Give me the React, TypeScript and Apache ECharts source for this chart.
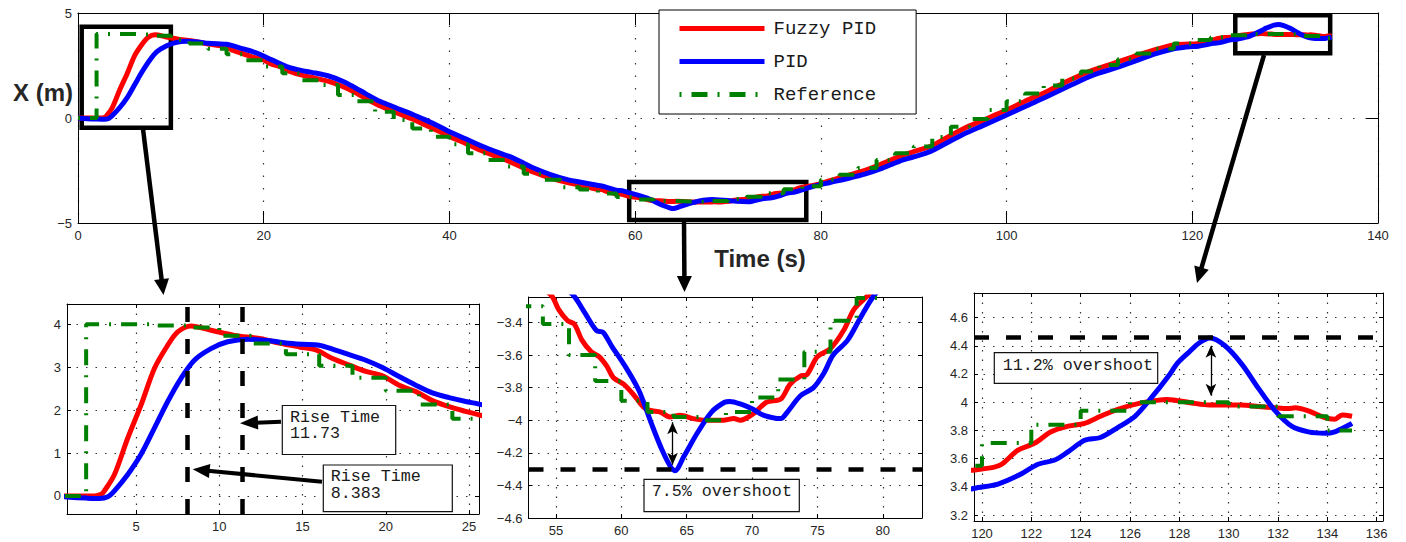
import React, { useEffect, useRef } from 'react';
import * as echarts from 'echarts';

// ---------------- data ----------------
const fuzzyT = [0, 2.5, 2.9, 3.1, 3.7, 4.5, 5.3, 6.1, 6.9, 7.5, 8.3, 9.5, 10.9, 12.5, 13.6, 14.8, 15.8, 16.8, 17.8, 18.8, 19.8, 20.8, 21.8, 22.8, 23.8, 24.8, 25.6, 27, 28.5, 29.6, 31, 32.2, 33.5, 34.7, 36, 37.4, 38.8, 40, 41.8, 43.6, 45, 46.5, 48, 49, 50.8, 52.6, 53.5, 54.7, 55.2, 55.9, 56.4, 57, 57.7, 58.3, 58.9, 59.4, 60.2, 60.9, 61.7, 62.2, 63, 63.7, 64.5, 65.5, 66.5, 67.8, 68.6, 69.1, 70.1, 71.1, 72.2, 72.9, 73.7, 74.2, 75, 76, 77, 77.8, 78.8, 79.5, 81, 83, 84.9, 86.4, 88.5, 90, 91.75, 93.5, 95.3, 97.5, 100, 102, 104.3, 107, 109.3, 111.5, 113.6, 116, 118, 119.7, 120.5, 120.8, 121.46, 122.14, 122.8, 123.5, 124.16, 124.8, 125.5, 126.46, 127.5, 128.5, 129.2, 130.5, 131.2, 131.9, 132.4, 132.7, 133.2, 133.9, 134.3, 134.6, 135];
const fuzzyV = [0, 0, 0.04, 0.12, 0.5, 1.35, 2.12, 2.97, 3.51, 3.82, 3.96, 3.86, 3.74, 3.66, 3.56, 3.47, 3.4, 3.2, 3.05, 2.9, 2.8, 2.58, 2.43, 2.22, 2.08, 1.97, 1.89, 1.74, 1.5, 1.27, 0.93, 0.64, 0.4, 0.18, -0.05, -0.33, -0.62, -0.88, -1.22, -1.58, -1.82, -2.08, -2.38, -2.57, -2.85, -3.06, -3.15, -3.24, -3.32, -3.39, -3.41, -3.51, -3.58, -3.61, -3.67, -3.74, -3.78, -3.84, -3.92, -3.94, -3.95, -3.98, -3.97, -3.99, -4.0, -4.0, -3.99, -4.0, -3.96, -3.89, -3.87, -3.78, -3.73, -3.72, -3.61, -3.56, -3.45, -3.32, -3.24, -3.18, -2.98, -2.72, -2.47, -2.22, -1.82, -1.6, -1.36, -0.95, -0.52, -0.1, 0.38, 0.8, 1.25, 1.85, 2.28, 2.6, 2.91, 3.25, 3.48, 3.52, 3.54, 3.56, 3.66, 3.71, 3.79, 3.83, 3.85, 3.9, 3.95, 3.995, 4.02, 3.995, 3.98, 3.98, 3.97, 3.96, 3.955, 3.96, 3.94, 3.89, 3.88, 3.91, 3.9];

const pidT = [0, 1, 2, 2.8, 3.3, 3.7, 4.5, 5.3, 6.1, 6.9, 7.7, 8.5, 9.5, 10.5, 11.7, 12.9, 14, 15, 16, 16.8, 17.8, 18.8, 19.8, 20.8, 21.8, 22.8, 23.8, 24.8, 25.6, 27, 28.5, 29.6, 31, 32.2, 33.5, 34.7, 36, 37.4, 38.8, 40, 41.8, 43.6, 45, 46.5, 48, 49, 50.8, 52.6, 54, 55, 56.4, 57.2, 58.1, 58.6, 59.3, 60.3, 61.3, 61.8, 62.3, 63.1, 63.8, 64.1, 64.8, 65.8, 66.9, 67.9, 68.3, 69.1, 70, 70.9, 72.2, 72.7, 73.7, 74.7, 75.5, 76.2, 77.3, 78.3, 79.2, 81, 83, 84.9, 86.4, 88.5, 90, 91.75, 93.5, 95.3, 97.5, 100, 102, 104.3, 107, 109.3, 111.5, 113.6, 116, 118, 119, 119.7, 120.65, 121.46, 122.27, 122.95, 123.5, 124.16, 124.8, 125.5, 126.2, 126.86, 127.54, 127.94, 128.36, 128.8, 129.24, 129.85, 130.53, 131.2, 131.88, 132.55, 133.23, 133.9, 134.3, 134.9, 135];
const pidV = [0, -0.03, -0.05, -0.06, -0.02, 0.12, 0.5, 0.97, 1.58, 2.2, 2.74, 3.16, 3.43, 3.59, 3.65, 3.62, 3.56, 3.53, 3.51, 3.42, 3.29, 3.16, 2.99, 2.78, 2.58, 2.4, 2.29, 2.2, 2.14, 2.0, 1.75, 1.5, 1.15, 0.86, 0.62, 0.4, 0.18, -0.09, -0.38, -0.65, -1.0, -1.36, -1.6, -1.84, -2.15, -2.37, -2.68, -2.92, -3.05, -3.13, -3.24, -3.34, -3.45, -3.46, -3.55, -3.67, -3.81, -3.91, -4.02, -4.18, -4.29, -4.31, -4.22, -4.08, -3.95, -3.89, -3.885, -3.9, -3.93, -3.97, -3.99, -3.95, -3.85, -3.8, -3.71, -3.6, -3.51, -3.37, -3.25, -3.07, -2.87, -2.65, -2.43, -2.05, -1.85, -1.6, -1.2, -0.78, -0.35, 0.14, 0.55, 1.01, 1.58, 2.04, 2.35, 2.67, 3.05, 3.3, 3.36, 3.39, 3.42, 3.48, 3.56, 3.59, 3.65, 3.73, 3.75, 3.82, 3.9, 4.03, 4.18, 4.28, 4.35, 4.42, 4.455, 4.4, 4.27, 4.1, 3.94, 3.83, 3.79, 3.78, 3.79, 3.84, 3.85];

const refT = [0, 2, 4, 6, 8, 10, 12, 14, 16, 18, 20, 22, 24, 26, 28, 30, 32, 34, 36, 38, 40, 42, 44, 46, 48, 50, 52, 54, 56, 58, 60, 62, 64, 66, 68, 70, 72, 74, 76, 78, 80, 82, 84, 86, 88, 90, 92, 94, 96, 98, 100, 102, 104, 106, 108, 110, 112, 114, 116, 118, 120, 122, 124, 126, 128, 130, 132, 134, 135];
const refV = [0, 4.0, 4.0, 3.97, 3.92, 3.73, 3.55, 3.3, 3.03, 2.75, 2.45, 2.13, 1.8, 1.57, 1.1, 0.8, 0.3, -0.1, -0.5, -0.89, -1.25, -1.68, -2.0, -2.31, -2.65, -2.94, -3.3, -3.41, -3.6, -3.76, -3.88, -3.95, -3.98, -4.0, -3.95, -3.86, -3.75, -3.58, -3.39, -3.25, -2.94, -2.7, -2.38, -2.0, -1.68, -1.36, -0.9, -0.42, -0.05, 0.38, 0.8, 1.17, 1.55, 1.88, 2.22, 2.52, 2.8, 3.07, 3.3, 3.55, 3.71, 3.84, 3.94, 4.0, 4.0, 3.97, 3.9, 3.8, 3.8];

const legendNames = ['Fuzzy PID', 'PID', 'Reference'];

const mainXTicks = [0, 20, 40, 60, 80, 100, 120, 140];
const mainYTicks = [-5, 0, 5];
const sub1XTicks = [5, 10, 15, 20, 25];
const sub1YTicks = [0, 1, 2, 3, 4];
const sub2XTicks = [55, 60, 65, 70, 75, 80];
const sub2YTicks = [-4.6, -4.4, -4.2, -4, -3.8, -3.6, -3.4];
const sub3XTicks = [120, 122, 124, 126, 128, 130, 132, 134, 136];
const sub3YTicks = [3.2, 3.4, 3.6, 3.8, 4, 4.2, 4.4, 4.6];

// zoom windows drawn on the main plot: [t0, v0, t1, v1]
const zoomBoxes = [
  [0.4, 4.35, 10, -0.47],
  [59.36, -3.05, 78.43, -4.86],
  [124.63, 4.89, 134.85, 3.08],
];
const riseTimeMarks = [8.1, 11.4]; // where the dashed lines are drawn
const overshootLow = -4.3;
const overshootHigh = 4.457;
const arrowLow = [63.92, -4.012, -4.273];
const arrowHigh = [129.28, 4.4, 4.046];

const riseText1 = 'Rise Time\n11.73';
const riseText2 = 'Rise Time\n8.383';
const overText1 = '7.5% overshoot';
const overText2 = '11.2% overshoot';

// ---------------- helpers ----------------
const zip = (ts: number[], vs: number[]) => ts.map((t, i) => [t, vs[i]]);
const fmt = (v: number) => String(Math.round(v * 100) / 100).replace('-', '\u2212');

type Panel = {
  grid: { left: number; top: number; width: number; height: number };
  x: [number, number];
  y: [number, number];
  xTicks: number[];
  yTicks: number[];
  tickLen: number;
  dots: number[];
};

const panels: Panel[] = [
  { grid: { left: 78, top: 13, width: 1300, height: 210 }, x: [0, 140], y: [-5, 5], xTicks: mainXTicks, yTicks: mainYTicks, tickLen: 12, dots: [1.5, 11] },
  { grid: { left: 67, top: 304, width: 412, height: 210 }, x: [0.85, 25.6], y: [-0.42, 4.47], xTicks: sub1XTicks, yTicks: sub1YTicks, tickLen: 4, dots: [1.5, 8] },
  { grid: { left: 528.5, top: 297, width: 393.5, height: 221 }, x: [52.9, 83.0], y: [-4.6, -3.244], xTicks: sub2XTicks, yTicks: sub2YTicks, tickLen: 4, dots: [1.5, 8] },
  { grid: { left: 974, top: 293, width: 409, height: 228 }, x: [119.676, 136.255], y: [3.158, 4.774], xTicks: sub3XTicks, yTicks: sub3YTicks, tickLen: 4, dots: [1.5, 8] },
];

function arrow(x1: number, y1: number, x2: number, y2: number, len: number, w: number, lw: number) {
  const dx = x2 - x1;
  const dy = y2 - y1;
  const L = Math.hypot(dx, dy);
  const ux = dx / L;
  const uy = dy / L;
  const bx = x2 - ux * len;
  const by = y2 - uy * len;
  const px = -uy;
  const py = ux;
  return [
    { type: 'line', z: 100, shape: { x1, y1, x2: bx + ux * 2, y2: by + uy * 2 }, style: { stroke: '#000', lineWidth: lw } },
    {
      type: 'polygon', z: 100,
      shape: { points: [[x2, y2], [bx + (px * w) / 2, by + (py * w) / 2], [bx - (px * w) / 2, by - (py * w) / 2]] },
      style: { fill: '#000' },
    },
  ];
}

function textBox(rx: number, ry: number, rw: number, rh: number, tx: number, ty: number, text: string, valign: string) {
  return [
    { type: 'rect', z: 100, shape: { x: rx, y: ry, width: rw, height: rh }, style: { fill: '#fff', stroke: '#111', lineWidth: 1.2 } },
    {
      type: 'text', z: 101, x: tx, y: ty,
      style: { text, fill: '#1a1a1a', fontFamily: 'Liberation Mono', fontSize: 16.7, lineHeight: 16.5, textAlign: 'left', textVerticalAlign: valign },
    },
  ];
}

export default function App() {
  const ref = useRef<HTMLDivElement>(null);

  useEffect(() => {
    const chart = echarts.init(ref.current!, undefined, { renderer: 'svg' });

    const fuzzyData = zip(fuzzyT, fuzzyV);
    const pidData = zip(pidT, pidV);
    const refData = zip(refT, refV);

    const xAxis: any[] = [];
    const yAxis: any[] = [];
    panels.forEach((p, i) => {
      const mk = (ticks: number[], min: number, max: number) => ({
        type: 'value', gridIndex: i, min, max,
        axisLine: { show: true, onZero: false, lineStyle: { color: '#000', width: 1 } },
        axisTick: { show: true, inside: true, length: p.tickLen, customValues: ticks, lineStyle: { color: '#000', width: 1 } },
        axisLabel: { show: true, customValues: ticks, formatter: fmt, color: '#262626', fontSize: 13, fontFamily: 'Liberation Sans', margin: 6 },
        splitLine: { show: true, lineStyle: { color: '#333', width: 1.2, type: p.dots } },
      });
      const xa = mk(p.xTicks, p.x[0], p.x[1]);
      const ya = mk(p.yTicks, p.y[0], p.y[1]);
      xAxis.push({ ...xa, position: 'bottom' });
      xAxis.push({ ...xa, position: 'top', axisLabel: { show: false }, splitLine: { show: false } });
      yAxis.push({ ...ya, position: 'left' });
      yAxis.push({ ...ya, position: 'right', axisLabel: { show: false }, splitLine: { show: false } });
    });

    const dashLine = { color: '#000', width: 4.5, type: [15, 17] };
    const arrowEnd = (c: number[]) => ({ coord: c, symbol: 'arrow', symbolSize: [8, 12], lineStyle: { color: '#000', width: 1.3, type: 'solid' } });

    const series: any[] = [];
    panels.forEach((p, i) => {
      series.push({
        type: 'line', name: 'Fuzzy PID', xAxisIndex: 2 * i, yAxisIndex: 2 * i, data: fuzzyData,
        symbol: 'none', smooth: 0.3, color: '#ff0000', lineStyle: { width: 5, color: '#ff0000', join: 'round' }, z: 2, silent: true,
      });
      series.push({
        type: 'line', name: 'PID', xAxisIndex: 2 * i, yAxisIndex: 2 * i, data: pidData,
        symbol: 'none', smooth: 0.3, color: '#0000ff', lineStyle: { width: 5, color: '#0000ff', join: 'round' }, z: 3, silent: true,
      });
      const refSeries: any = {
        type: 'line', name: 'Reference', xAxisIndex: 2 * i, yAxisIndex: 2 * i, data: refData, step: 'end',
        symbol: 'none', color: '#008000', lineStyle: { width: 4, color: '#008000', type: [2, 10, 16, 10] }, z: 4, silent: true,
      };
      if (i === 0) {
        refSeries.markArea = {
          silent: true, label: { show: false },
          itemStyle: { color: 'rgba(0,0,0,0)', borderColor: '#000', borderWidth: 4.5 },
          data: zoomBoxes.map((b) => [{ coord: [b[0], b[1]] }, { coord: [b[2], b[3]] }]),
        };
      }
      if (i === 1) {
        refSeries.markLine = {
          silent: true, symbol: ['none', 'none'], label: { show: false }, lineStyle: dashLine,
          data: riseTimeMarks.map((t) => ({ xAxis: t })),
        };
      }
      if (i === 2) {
        refSeries.markLine = {
          silent: true, symbol: ['none', 'none'], label: { show: false }, lineStyle: dashLine,
          data: [
            { yAxis: overshootLow },
            [arrowEnd([arrowLow[0], arrowLow[1]]), arrowEnd([arrowLow[0], arrowLow[2]])],
          ],
        };
      }
      if (i === 3) {
        refSeries.markLine = {
          silent: true, symbol: ['none', 'none'], label: { show: false }, lineStyle: dashLine,
          data: [
            { yAxis: overshootHigh },
            [arrowEnd([arrowHigh[0], arrowHigh[1]]), arrowEnd([arrowHigh[0], arrowHigh[2]])],
          ],
        };
      }
      series.push(refSeries);
    });

    const graphic: any[] = [
      { type: 'text', z: 100, x: 43, y: 92, style: { text: 'X (m)', fill: '#262626', fontFamily: 'Liberation Sans', fontWeight: 'bold', fontSize: 24, textAlign: 'center', textVerticalAlign: 'middle' } },
      { type: 'text', z: 100, x: 760, y: 258, style: { text: 'Time (s)', fill: '#262626', fontFamily: 'Liberation Sans', fontWeight: 'bold', fontSize: 24, textAlign: 'center', textVerticalAlign: 'middle' } },
      ...arrow(143, 129, 163.5, 295, 16, 15, 4.5),
      ...arrow(684, 222, 684.5, 292, 16, 15, 4.5),
      ...arrow(1264, 55, 1197, 283, 16, 15, 4.5),
      ...arrow(281, 421.7, 240, 423.3, 18, 14, 4),
      ...arrow(322, 481.7, 192.7, 469.3, 17, 14, 4),
      ...textBox(282.3, 405.5, 113.4, 49, 290, 408.8, riseText1, 'top'),
      ...textBox(323.3, 465, 129, 46.7, 330.7, 468.4, riseText2, 'top'),
      ...textBox(644, 479.3, 155.3, 32.4, 651.7, 491, overText1, 'middle'),
      ...textBox(994.3, 352.7, 163.4, 30.6, 1002.7, 365, overText2, 'middle'),
    ];

    chart.setOption({
      animation: false,
      backgroundColor: '#fff',
      textStyle: { fontFamily: 'Liberation Sans' },
      grid: panels.map((p) => ({ ...p.grid, containLabel: false, outerBoundsMode: 'none' })),
      xAxis,
      yAxis,
      legend: {
        data: legendNames,
        orient: 'vertical', left: 659, top: 10,
        itemWidth: 85, itemHeight: 20, itemGap: 14,
        padding: [9, 40, 10, 18],
        backgroundColor: '#fff', borderColor: '#000', borderWidth: 1, borderRadius: 0,
        textStyle: { fontFamily: 'Liberation Mono', fontSize: 19, color: '#1a1a1a', padding: [0, 0, 0, 4] },
        itemStyle: { opacity: 0 },
        lineStyle: { width: 5 },
        selectedMode: false,
        z: 10,
      },
      series,
      graphic,
    });

    return () => chart.dispose();
  }, []);

  return <div ref={ref} style={{ position: 'fixed', left: 0, top: 0, width: 1406, height: 542, background: '#fff' }} />;
}
